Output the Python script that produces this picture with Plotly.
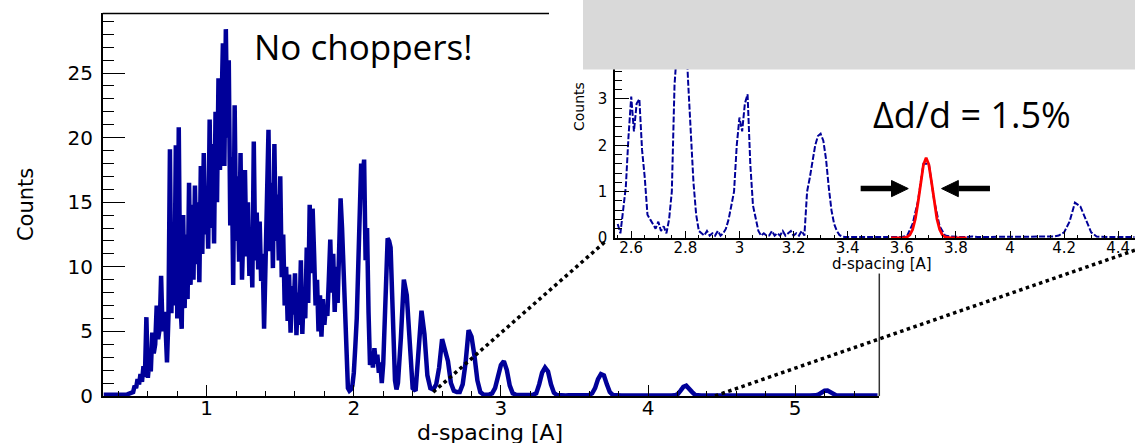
import numpy as np
import plotly.graph_objects as go

W, H = 1135, 443          # frame in which the layout geometry below is measured
FIG_H = 458               # page height handed to plotly
SY = FIG_H / H            # vertical pixel scale of the page
BLUE = "#000099"

# ---------------- main spectrum: counts vs d-spacing ----------------
# flat low-d tail
d_tail = [0.30, 0.34, 0.38, 0.42, 0.46]
counts_tail = [0.10, 0.12, 0.10, 0.14, 0.12]

# fine bins (0.01 A) from 0.50 to 2.30 A
counts_fine = [
    0.3, 0.8, 0.6, 1.3, 0.9, 1.7, 1.1, 2.3, 1.5, 6.1,
    1.4, 2.7, 1.9, 4.9, 3.3, 4.0, 7.0, 4.4, 5.2, 9.3,
    5.0, 6.5, 5.4, 2.6, 6.2, 19.1, 6.4, 13.0, 7.0, 19.4,
    6.0, 20.8, 7.4, 5.2, 14.0, 6.8, 12.5, 7.5, 16.5, 8.6,
    14.8, 9.0, 16.3, 10.2, 15.0, 8.8, 17.8, 11.0, 18.8, 12.5,
    16.0, 11.4, 21.4, 13.0, 19.5, 11.8, 22.0, 15.0, 24.6, 17.5,
    22.0, 27.3, 17.8, 28.4, 20.0, 26.0, 13.2, 18.5, 8.6, 22.5,
    12.0, 17.0, 10.4, 18.8, 9.0, 14.5, 17.5, 10.8, 15.0, 9.3,
    12.6, 8.4, 19.7, 10.5, 14.2, 9.8, 13.5, 8.9, 11.0, 5.2,
    10.6, 14.0, 20.6, 11.2, 16.5, 9.9, 19.5, 12.0, 15.6, 10.5,
    17.0, 9.2, 12.5, 7.0, 10.0, 5.8, 9.4, 4.9, 8.5, 6.3,
    9.5, 4.7, 8.0, 5.5, 10.5, 4.8, 8.2, 6.0, 11.5, 7.2,
    14.8, 9.5, 14.5, 11.0, 7.0, 9.0, 5.0, 7.8, 4.6, 7.5,
    5.5, 7.0, 6.2, 9.0, 12.1, 8.0, 11.0, 6.5, 10.0, 7.2,
    12.5, 15.3, 13.0, 9.5, 5.0, 2.0, 0.6, 0.4, 0.5, 0.8,
    1.8, 3.8, 6.0, 10.0, 13.5, 18.0, 17.0, 18.3, 10.5, 13.0,
    6.5, 2.4, 3.0, 2.2, 3.7, 2.5, 3.2, 1.8, 2.6, 1.0,
    2.5, 6.0, 10.2, 12.2, 12.0, 11.5, 8.0, 4.0, 1.2, 0.5,
    1.0,
]
# coarser bins (0.02 A) from 2.32 to 5.56 A
counts_coarse = [
    4.5, 9.0, 7.8, 3.6, 0.6, 0.4, 3.2, 6.6, 4.8, 1.6,
    0.6, 0.5, 0.9, 2.2, 4.4, 3.4, 2.7, 1.0, 0.4, 0.3,
    0.3, 0.9, 2.6, 5.1, 4.6, 3.1, 1.2, 0.3, 0.12, 0.1,
    0.1, 0.2, 0.6, 1.5, 2.4, 2.7, 2.0, 0.8, 0.2, 0.1,
    0.08, 0.1, 0.08, 0.1, 0.08, 0.1, 0.2, 0.9, 1.8, 2.2,
    1.9, 0.9, 0.25, 0.08, 0.05, 0.05, 0.04, 0.05, 0.04, 0.05,
    0.04, 0.05, 0.04, 0.05, 0.08, 0.2, 0.6, 1.3, 1.7, 1.6,
    0.9, 0.3, 0.08, 0.04, 0.03, 0.03, 0.04, 0.03, 0.03, 0.04,
    0.03, 0.03, 0.04, 0.03, 0.03, 0.04, 0.03, 0.03, 0.04, 0.03,
    0.03, 0.04, 0.03, 0.05, 0.12, 0.4, 0.7, 0.8, 0.6, 0.3,
    0.08, 0.03, 0.03, 0.04, 0.03, 0.03, 0.04, 0.03, 0.03, 0.04,
    0.03, 0.03, 0.04, 0.03, 0.03, 0.04, 0.03, 0.03, 0.04, 0.03,
    0.03, 0.04, 0.03, 0.03, 0.04, 0.03, 0.03, 0.04, 0.03, 0.03,
    0.04, 0.03, 0.03, 0.04, 0.03, 0.03, 0.04, 0.03, 0.03, 0.04,
    0.03, 0.05, 0.12, 0.28, 0.4, 0.42, 0.3, 0.12, 0.04, 0.03,
    0.03, 0.04, 0.03, 0.03, 0.04, 0.03, 0.03, 0.04, 0.03, 0.03,
    0.04, 0.03, 0.03,
]

# ---------------- zoomed spectrum (inset) ----------------
# 0.01 A bins from 2.55 to 3.40 A
zoom_fine = [
    0.3, 0.1, 0.6, 1.1, 2.2, 3.05, 2.3, 2.9, 3.0, 1.9,
    1.3, 0.5, 0.4, 0.3, 0.2, 0.35, 0.15, 0.25, 0.1, 0.4,
    1.0, 3.3, 4.6, 5.0, 5.1, 4.7, 3.4, 2.3, 1.2, 0.5,
    0.15, 0.1, 0.05, 0.15, 0.05, 0.1, 0.05, 0.15, 0.05, 0.1,
    0.2, 0.4, 0.7, 1.0, 2.0, 2.6, 2.3, 2.9, 3.1, 1.6,
    0.7, 0.4, 0.15, 0.05, 0.1, 0.05, 0.05, 0.15, 0.05, 0.1,
    0.05, 0.15, 0.05, 0.1, 0.15, 0.05, 0.1, 0.05, 0.15, 0.05,
    1.0, 1.3, 1.7, 2.0, 2.2, 2.25, 2.1, 1.7, 1.1, 0.6,
    0.3, 0.15, 0.06, 0.03, 0.02, 0.02,
]
# 0.02 A bins from 3.42 to 4.46 A
zoom_coarse = [
    0.02, 0.02, 0.03, 0.02, 0.02, 0.02, 0.02, 0.02, 0.03, 0.02,
    0.05, 0.3, 0.8, 1.6, 1.6, 0.8, 0.25, 0.05, 0.03, 0.02,
    0.02, 0.02, 0.03, 0.02, 0.02, 0.02, 0.03, 0.02, 0.02, 0.02,
    0.02, 0.02, 0.02, 0.03, 0.02, 0.02, 0.02, 0.03, 0.05, 0.12,
    0.35, 0.76, 0.68, 0.4, 0.12, 0.03, 0.02, 0.02, 0.02, 0.02,
    0.02, 0.02, 0.02,
]

# Gaussian fit of the 3.69 A reflection (FWHM = 1.5 % of d)
fit_d = [3.56, 3.57, 3.58, 3.59, 3.60, 3.61, 3.62, 3.63, 3.64, 3.65,
         3.66, 3.67, 3.68, 3.69, 3.70, 3.71, 3.72, 3.73, 3.74, 3.75,
         3.76, 3.77, 3.78, 3.79, 3.80, 3.81, 3.82, 3.83, 3.84]
fit_counts = [0.000, 0.000, 0.000, 0.000, 0.001, 0.005, 0.021, 0.067, 0.180, 0.407,
              0.766, 1.205, 1.580, 1.730, 1.580, 1.205, 0.766, 0.407, 0.180, 0.067,
              0.021, 0.005, 0.001, 0.000, 0.000, 0.000, 0.000, 0.000, 0.000]

# bin centres
d_fine = np.round(0.50 + 0.01 * np.arange(len(counts_fine)), 2)
d_coarse = np.round(2.32 + 0.02 * np.arange(len(counts_coarse)), 2)
d_main = list(d_tail) + list(d_fine) + list(d_coarse)
counts_main = counts_tail + counts_fine + counts_coarse

dz_fine = np.round(2.55 + 0.01 * np.arange(len(zoom_fine)), 2)
dz_coarse = np.round(3.42 + 0.02 * np.arange(len(zoom_coarse)), 2)
d_zoom = list(dz_fine) + list(dz_coarse)
counts_zoom = zoom_fine + zoom_coarse

# ---------------- geometry (pixels in the 1135 x 443 frame) ----------------
MAIN_L, MAIN_R, MAIN_T, MAIN_B = 102.7, 879.3, 13.3, 393.3
INS_L, INS_R, INS_T, INS_B = 615.0, 1135.0, 60.0, 236.3

def dom_x(a, b):
    return [a / W, b / W]

def dom_y(top, bottom):
    return [1 - bottom / H, 1 - top / H]

main_xdom, main_ydom = dom_x(MAIN_L, MAIN_R), dom_y(MAIN_T, MAIN_B)
ins_xdom, ins_ydom = dom_x(INS_L, INS_R), dom_y(INS_T, INS_B)
main_xr, main_yr = [0.293, 5.572], [0, 29.62]
ins_xr, ins_yr = [2.540, 4.462], [0, 3.833]


def to_paper(xv, yv, xdom, xr, ydom, yr):
    fx = xdom[0] + (xv - xr[0]) / (xr[1] - xr[0]) * (xdom[1] - xdom[0])
    fy = ydom[0] + (yv - yr[0]) / (yr[1] - yr[0]) * (ydom[1] - ydom[0])
    return fx, fy


fig = go.Figure()
fig.add_trace(go.Scatter(x=d_main, y=counts_main, mode="lines",
                         line=dict(color=BLUE, width=4.5),
                         xaxis="x", yaxis="y", hoverinfo="skip"))
fig.add_trace(go.Scatter(x=d_zoom, y=counts_zoom, mode="lines",
                         line=dict(color=BLUE, width=2, dash="6px,2px"),
                         xaxis="x2", yaxis="y2", hoverinfo="skip"))
fig.add_trace(go.Scatter(x=fit_d, y=fit_counts, mode="lines",
                         line=dict(color="#ff0000", width=2.8),
                         xaxis="x2", yaxis="y2", hoverinfo="skip"))

TICKFONT = dict(family="DejaVu Sans", size=20, color="black")
TICKFONT_S = dict(family="DejaVu Sans", size=15, color="black")
axis_common = dict(showgrid=False, zeroline=False, showline=True,
                   linecolor="black", linewidth=1.5, ticks="inside",
                   tickcolor="black", tickwidth=1.2)

fig.update_layout(
    width=W, height=FIG_H, autosize=False, margin=dict(l=0, r=0, t=0, b=0, pad=0),
    paper_bgcolor="white", plot_bgcolor="white", showlegend=False,
    xaxis=dict(domain=main_xdom, range=main_xr, anchor="y", dtick=1, tick0=0,
               ticklen=11 * SY, tickfont=TICKFONT, ticklabelstandoff=-7,
               minor=dict(ticks="inside", dtick=0.2, ticklen=5 * SY,
                          tickcolor="black", tickwidth=1.2),
               **axis_common),
    yaxis=dict(domain=main_ydom, range=main_yr, anchor="x", dtick=5, tick0=0,
               ticklen=23, tickfont=TICKFONT, ticklabelstandoff=4,
               minor=dict(ticks="inside", dtick=1, ticklen=11.7,
                          tickcolor="black", tickwidth=1.2),
               **axis_common),
    xaxis2=dict(domain=ins_xdom, range=ins_xr, anchor="y2", dtick=0.2, tick0=0,
                ticklen=7 * SY, tickfont=TICKFONT_S, ticklabelstandoff=-5,
                minor=dict(ticks="inside", dtick=0.05, ticklen=3.5 * SY,
                           tickcolor="black", tickwidth=1),
                **axis_common),
    yaxis2=dict(domain=ins_ydom, range=ins_yr, anchor="x2", dtick=1, tick0=0,
                ticklen=14.7, tickfont=TICKFONT_S, ticklabelstandoff=3,
                minor=dict(ticks="inside", dtick=0.2, ticklen=7,
                           tickcolor="black", tickwidth=1),
                **axis_common),
)

shapes = []
# remaining parts of the main frame (top and right edges)
shapes.append(dict(type="line", xref="x domain", yref="y domain",
                   x0=0, x1=(549 - MAIN_L) / (MAIN_R - MAIN_L), y0=1, y1=1,
                   line=dict(color="black", width=1.5)))
shapes.append(dict(type="line", xref="x domain", yref="y domain",
                   x0=1, x1=1, y0=0, y1=(MAIN_B - 271.7) / (MAIN_B - MAIN_T),
                   line=dict(color="#333333", width=1.5)))
# grey banner across the top of the inset
shapes.append(dict(type="rect", xref="paper", yref="paper",
                   x0=583 / W, x1=1.0, y0=1 - 69 / H, y1=1.0,
                   fillcolor="#d9d9d9", line=dict(width=0), layer="above"))

# dotted zoom guides from the main axis to the inset
for (mx, my), (ix, iy) in [((2.54, 0.3), (2.51, -0.05)), ((4.455, 0.0), (4.47, -0.25))]:
    x0, y0 = to_paper(mx, my, main_xdom, main_xr, main_ydom, main_yr)
    x1, y1 = to_paper(ix, iy, ins_xdom, ins_xr, ins_ydom, ins_yr)
    shapes.append(dict(type="line", xref="paper", yref="paper",
                       x0=x0, y0=y0, x1=x1, y1=y1,
                       line=dict(color="black", width=3.5, dash="dot")))

# width arrows around the fitted peak
ay, head_len, head_h = 1.065, 0.062, 0.175
for tail, tip in [(3.448, 3.624), (3.926, 3.747)]:
    sgn = 1 if tip > tail else -1
    base = tip - sgn * head_len
    shapes.append(dict(type="line", xref="x2", yref="y2", x0=tail, x1=base,
                       y0=ay, y1=ay, line=dict(color="black", width=5.3 * SY)))
    shapes.append(dict(type="path", xref="x2", yref="y2",
                       path=f"M {tip},{ay} L {base},{ay + head_h} L {base},{ay - head_h} Z",
                       fillcolor="black", line=dict(color="black", width=1)))
fig.update_layout(shapes=shapes)

annotations = [
    dict(text="No choppers!", x=251.7 / W, y=1 - 46.1 / H, xref="paper", yref="paper",
         xanchor="left", yanchor="middle", showarrow=False,
         font=dict(family="Open Sans", size=35, color="black")),
    dict(text="Δd/d = 1.5%", x=870.8 / W, y=1 - 113.5 / H, xref="paper", yref="paper",
         xanchor="left", yanchor="middle", showarrow=False,
         font=dict(family="Open Sans", size=36, color="black")),
    dict(text="d-spacing [A]", x=489.7 / W, y=1 - 430.0 / H, xref="paper", yref="paper",
         xanchor="center", yanchor="middle", showarrow=False,
         font=dict(family="DejaVu Sans", size=22, color="black")),
    dict(text="Counts", x=26.7 / W, y=1 - 203 / H, xref="paper", yref="paper",
         xanchor="center", yanchor="middle", showarrow=False, textangle=-90,
         font=dict(family="DejaVu Sans", size=21, color="black")),
    dict(text="d-spacing [A]", x=881.7 / W, y=1 - 262.0 / H, xref="paper", yref="paper",
         xanchor="center", yanchor="middle", showarrow=False,
         font=dict(family="DejaVu Sans", size=15, color="black")),
    dict(text="Counts", x=578.3 / W, y=1 - 106 / H, xref="paper", yref="paper",
         xanchor="center", yanchor="middle", showarrow=False, textangle=-90,
         font=dict(family="DejaVu Sans", size=14, color="black")),
]
fig.update_layout(annotations=annotations)

fig.write_html("out.html", config={"responsive": False})
